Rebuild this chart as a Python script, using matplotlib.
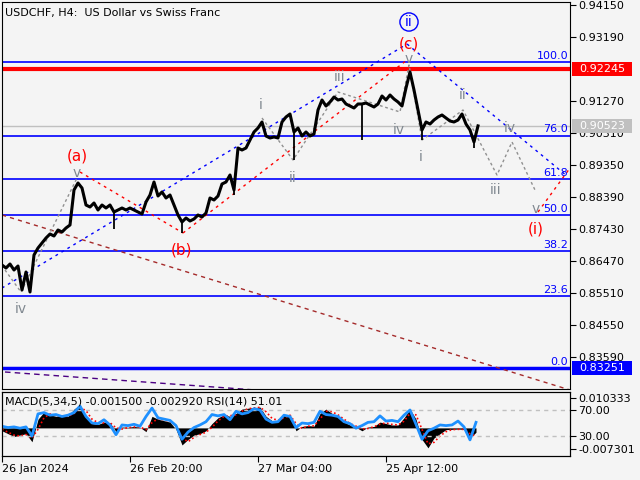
import matplotlib
matplotlib.use("Agg")
import matplotlib.pyplot as plt
from matplotlib.patches import Rectangle
import numpy as np

# price closes, one every 4 H4 bars (bar 0 = 26 Jan 2024)
close = [0.8635, 0.8626, 0.8638, 0.8620, 0.8632, 0.8560, 0.8614, 0.8554, 0.8665, 0.8686,
         0.8701, 0.8716, 0.8728, 0.8722, 0.8740, 0.8734, 0.8746, 0.8755, 0.8860, 0.8881,
         0.8866, 0.8815, 0.8809, 0.8821, 0.8800, 0.8815, 0.8806, 0.8815, 0.8794, 0.8800,
         0.8806, 0.8800, 0.8806, 0.8800, 0.8794, 0.8788, 0.8824, 0.8845, 0.8884, 0.8842,
         0.8854, 0.8836, 0.8845, 0.8815, 0.8785, 0.8764, 0.8776, 0.8767, 0.8773, 0.8785,
         0.8779, 0.8791, 0.8836, 0.8830, 0.8842, 0.8878, 0.8884, 0.8905, 0.8860, 0.8986,
         0.8980, 0.8986, 0.9010, 0.9034, 0.9046, 0.9064, 0.9022, 0.9016, 0.9019, 0.9016,
         0.9064, 0.9079, 0.9088, 0.9034, 0.9046, 0.9022, 0.9034, 0.9022, 0.9028, 0.9100,
         0.9130, 0.9112, 0.9124, 0.9139, 0.9130, 0.9133, 0.9118, 0.9112, 0.9106, 0.9118,
         0.9118, 0.9121, 0.9115, 0.9109, 0.9118, 0.9142, 0.9130, 0.9145, 0.9133, 0.9124,
         0.9112, 0.9166, 0.9214, 0.9160, 0.9100, 0.9040, 0.9064, 0.9058, 0.9070, 0.9079,
         0.9085, 0.9076, 0.9067, 0.9064, 0.9070, 0.9088, 0.9058, 0.9040, 0.9004, 0.90523]
close_bars = np.arange(0, 480, 4)

# long wicks
spike_bars = [20, 112, 180, 232, 292, 360, 420, 472]
spike_lows = [0.8560, 0.8743, 0.8731, 0.8845, 0.8950, 0.9010, 0.9010, 0.8986]

# indicator panel, one every 6 bars
rsi = [45, 43, 44, 42, 44, 30, 64, 66, 62, 63, 60, 62, 66, 76, 60, 50, 49, 55, 47, 32,
       47, 46, 48, 45, 60, 73, 58, 56, 54, 46, 25, 36, 43, 47, 52, 63, 61, 63, 55, 68,
       64, 66, 72, 70, 56, 51, 52, 62, 60, 43, 50, 49, 51, 68, 63, 62, 60, 52, 49, 42,
       46, 51, 52, 61, 53, 54, 52, 62, 70, 48, 25, 38, 42, 47, 46, 47, 53, 44, 24, 51.01]
macd = [-1.0, -2.0, -3.0, -2.5, -2.0, -4.8, 3.0, 5.5, 4.5, 4.0, 4.2, 4.0, 6.5, 8.0, 4.0, 1.5,
        1.2, 2.0, 1.8, -1.3, 0.3, 0.2, 0.5, 0.2, -1.3, 4.0, 3.0, 2.5, 2.0, -0.5, -5.9, -4.0,
        -2.5, -2.0, -1.0, 1.5, 3.5, 4.5, 4.0, 5.0, 6.5, 6.8, 7.0, 7.2, 4.0, 2.5, 2.5, 4.5,
        4.5, -1.0, 0.5, 0.8, 0.6, 5.0, 6.5, 5.0, 4.0, 2.0, 1.0, 0.2, -1.0, 0.3, 0.5, 2.0,
        1.5, 1.0, 1.0, 3.5, 6.5, 3.0, -4.0, -6.9, -3.5, -2.0, -0.6, -0.5, -0.4, -0.5, -3.5, -1.5]
signal = [-0.5, -1.5, -2.5, -2.8, -2.3, -3.5, -0.5, 3.5, 4.8, 4.3, 4.1, 4.0, 5.0, 7.0, 6.0, 3.0,
          1.8, 1.7, 1.8, 0.0, -0.4, 0.1, 0.3, 0.3, -0.6, 1.8, 3.2, 2.8, 2.3, 0.7, -3.5, -4.8,
          -3.3, -2.3, -1.5, 0.2, 2.4, 4.0, 4.2, 4.5, 5.8, 6.6, 6.9, 7.1, 5.6, 3.3, 2.6, 3.5,
          4.4, 1.5, -0.2, 0.6, 0.7, 3.0, 5.8, 5.6, 4.5, 3.0, 1.5, 0.6, -0.4, -0.2, 0.4, 1.3,
          1.7, 1.2, 1.0, 2.3, 5.0, 4.5, -0.5, -5.5, -5.0, -2.8, -1.3, -0.6, -0.5, -0.5, -2.0, -2.92]
ind_bars = np.arange(0, 480, 6)

fib_levels = [0.92431, 0.90228, 0.88924, 0.87841, 0.86758, 0.85417, 0.83251]
fib_names = ["100.0", "76.0", "61.8", "50.0", "38.2", "23.6", "0.0"]
price_ticks = [0.94150, 0.93190, 0.91270, 0.90310, 0.89350, 0.88390,
               0.87430, 0.86470, 0.85510, 0.84550, 0.83590]
date_bars = [0, 128, 256, 384]
date_labels = ["26 Jan 2024", "26 Feb 20:00", "27 Mar 04:00", "25 Apr 12:00"]

# wave drawings (bar, price)
blue_up = ([0, 405], [0.8566, 0.9298])
blue_down = ([405, 565], [0.9298, 0.8902])
red_ab = ([78, 181], [0.8914, 0.8731])
red_bc = ([181, 405], [0.8731, 0.9250])
red_next = ([536, 568], [0.8794, 0.8926])
brown_line = ([0, 568], [0.8785, 0.8260])
purple_line = ([3, 300], [0.8314, 0.8250])
gray_a = ([3, 19, 75], [0.8620, 0.8554, 0.8896])
gray_c = ([260, 291, 336, 398, 407, 420, 461, 495, 510, 533],
          [0.9076, 0.8950, 0.9154, 0.9094, 0.9235, 0.9010, 0.9100, 0.8905, 0.9004, 0.8860])

gray_labels = [("v", 75, 0.8911), ("iv", 19, 0.8503), ("i", 259, 0.9115), ("ii", 291, 0.8896),
               ("iii", 338, 0.9199), ("iv", 397, 0.9040), ("v", 407, 0.9253), ("i", 419, 0.8959),
               ("ii", 461, 0.9145), ("iii", 494, 0.8860), ("iv", 508, 0.9046), ("v", 534, 0.8803)]
red_labels = [("(a)", 75, 0.8962), ("(b)", 179, 0.8680), ("(c)", 407, 0.9298), ("(i)", 534, 0.8743)]

BG = "#f4f4f4"
GRAY = "#808890"
plt.rcParams["font.family"] = "DejaVu Sans"
plt.rcParams["font.size"] = 8

fig = plt.figure(figsize=(6.4, 4.8), dpi=100, facecolor=BG)
ax = fig.add_axes([2 / 640, 1 - 389 / 480, 568 / 640, 387 / 480], facecolor=BG)
ax.set_xlim(0, 568)
ax.set_ylim(0.8263, 0.9424)

for lvl, name in zip(fib_levels, fib_names):
    lw = 2.5 if name == "0.0" else 1.2
    ax.axhline(lvl, color="#0000ff", lw=lw, zorder=1)
    ax.text(566, lvl + 0.0004, name, color="#0000ff", ha="right", va="bottom", fontsize=8)
ax.axhline(0.92245, color="#ff0000", lw=3, zorder=1)
ax.axhline(0.90523, color="#c0c0c0", lw=1, zorder=1)

ax.plot(*brown_line, color="#a52a2a", lw=1, ls=(0, (3, 3)))
ax.plot(*purple_line, color="#4b0082", lw=1, ls=(0, (4, 3)))
ax.plot(*blue_up, color="#0000ff", lw=1, ls=(0, (2, 3)))
ax.plot(*blue_down, color="#0000ff", lw=1, ls=(0, (2, 3)))
for seg in (red_ab, red_bc, red_next):
    ax.plot(*seg, color="#ff0000", lw=1, ls=(0, (2, 3)))
ax.plot(*gray_a, color="#909090", lw=1, ls=(0, (2, 2)))
ax.plot(*gray_c, color="#909090", lw=1, ls=(0, (2, 2)))

ax.plot(close_bars, close, color="black", lw=2.2, zorder=4)
ax.vlines(spike_bars, spike_lows, [close[b // 4] for b in spike_bars], color="black", lw=1.3, zorder=4)

for t, x, y in gray_labels:
    ax.text(x, y, t, color=GRAY, fontsize=10, ha="center", va="center")
for t, x, y in red_labels:
    ax.text(x, y, t, color="#ff0000", fontsize=11, ha="center", va="center")
ax.text(407, 0.9364, "ii", color="#0000ff", fontsize=10, ha="center", va="center",
        bbox=dict(boxstyle="circle,pad=0.15", fc="none", ec="#0000ff", lw=1))

ax.text(0.006, 0.985, "USDCHF, H4:  US Dollar vs Swiss Franc", transform=ax.transAxes,
        va="top", ha="left", fontsize=8)

ax.yaxis.tick_right()
ax.set_yticks(price_ticks)
ax.set_yticklabels(["%.5f" % p for p in price_ticks])
ax.tick_params(axis="y", direction="out", length=4, pad=2)
ax.set_xticks([])

# price tags on the scale
ytr = ax.get_yaxis_transform()
for val, fc in [(0.92245, "#ff0000"), (0.90523, "#c0c0c0"), (0.83251, "#0000ff")]:
    ax.add_patch(Rectangle((1.0035, val - 0.0021), 60 / 568, 0.0042, transform=ytr,
                           fc=fc, ec="none", clip_on=False, zorder=5))
    ax.text(1.0035 + 30 / 568, val, "%.5f" % val, transform=ytr, color="white",
            ha="center", va="center", fontsize=8, zorder=6, clip_on=False)

# indicator panel
ax2 = fig.add_axes([2 / 640, 1 - 456 / 480, 568 / 640, 64 / 480], facecolor=BG)
ax2.set_xlim(0, 568)
ax2.set_ylim(-0.009721, 0.012408)
m = np.array(macd) / 1000
ax2.fill_between(ind_bars, 0, m, color="black", lw=0)
ax2.plot(ind_bars, np.array(signal) / 1000, color="#ff0000", lw=1.2, ls=(0, (1, 1.5)))
ax2.set_xticks(date_bars)
ax2.set_xticklabels(date_labels, ha="left")
ax2.tick_params(axis="x", direction="out", length=4, pad=2)

ax3 = ax2.twinx()
ax3.set_ylim(-0.77, 97.7)
ax3.axhline(70, color="#c0c0c0", lw=1, ls=(0, (3, 3)))
ax3.axhline(30, color="#c0c0c0", lw=1, ls=(0, (3, 3)))
ax3.plot(ind_bars, rsi, color="#1e90ff", lw=2)
ax3.set_yticks([70, 30])
ax3.set_yticklabels(["70.00", "30.00"])
ax3.tick_params(axis="y", direction="out", length=4, pad=2)

# twinx moves the host ticks to the left, put them back on the right
ax2.yaxis.tick_right()
ax2.set_yticks([0.010333, -0.007301])
ax2.set_yticklabels(["0.010333", "-0.007301"])
ax2.tick_params(axis="y", direction="out", length=4, pad=2)
ax3.text(0.005, 0.93, "MACD(5,34,5) -0.001500 -0.002920 RSI(14) 51.01", transform=ax3.transAxes,
         va="top", ha="left", fontsize=8, zorder=6)

fig.savefig("out.png", dpi=100, facecolor=BG)
